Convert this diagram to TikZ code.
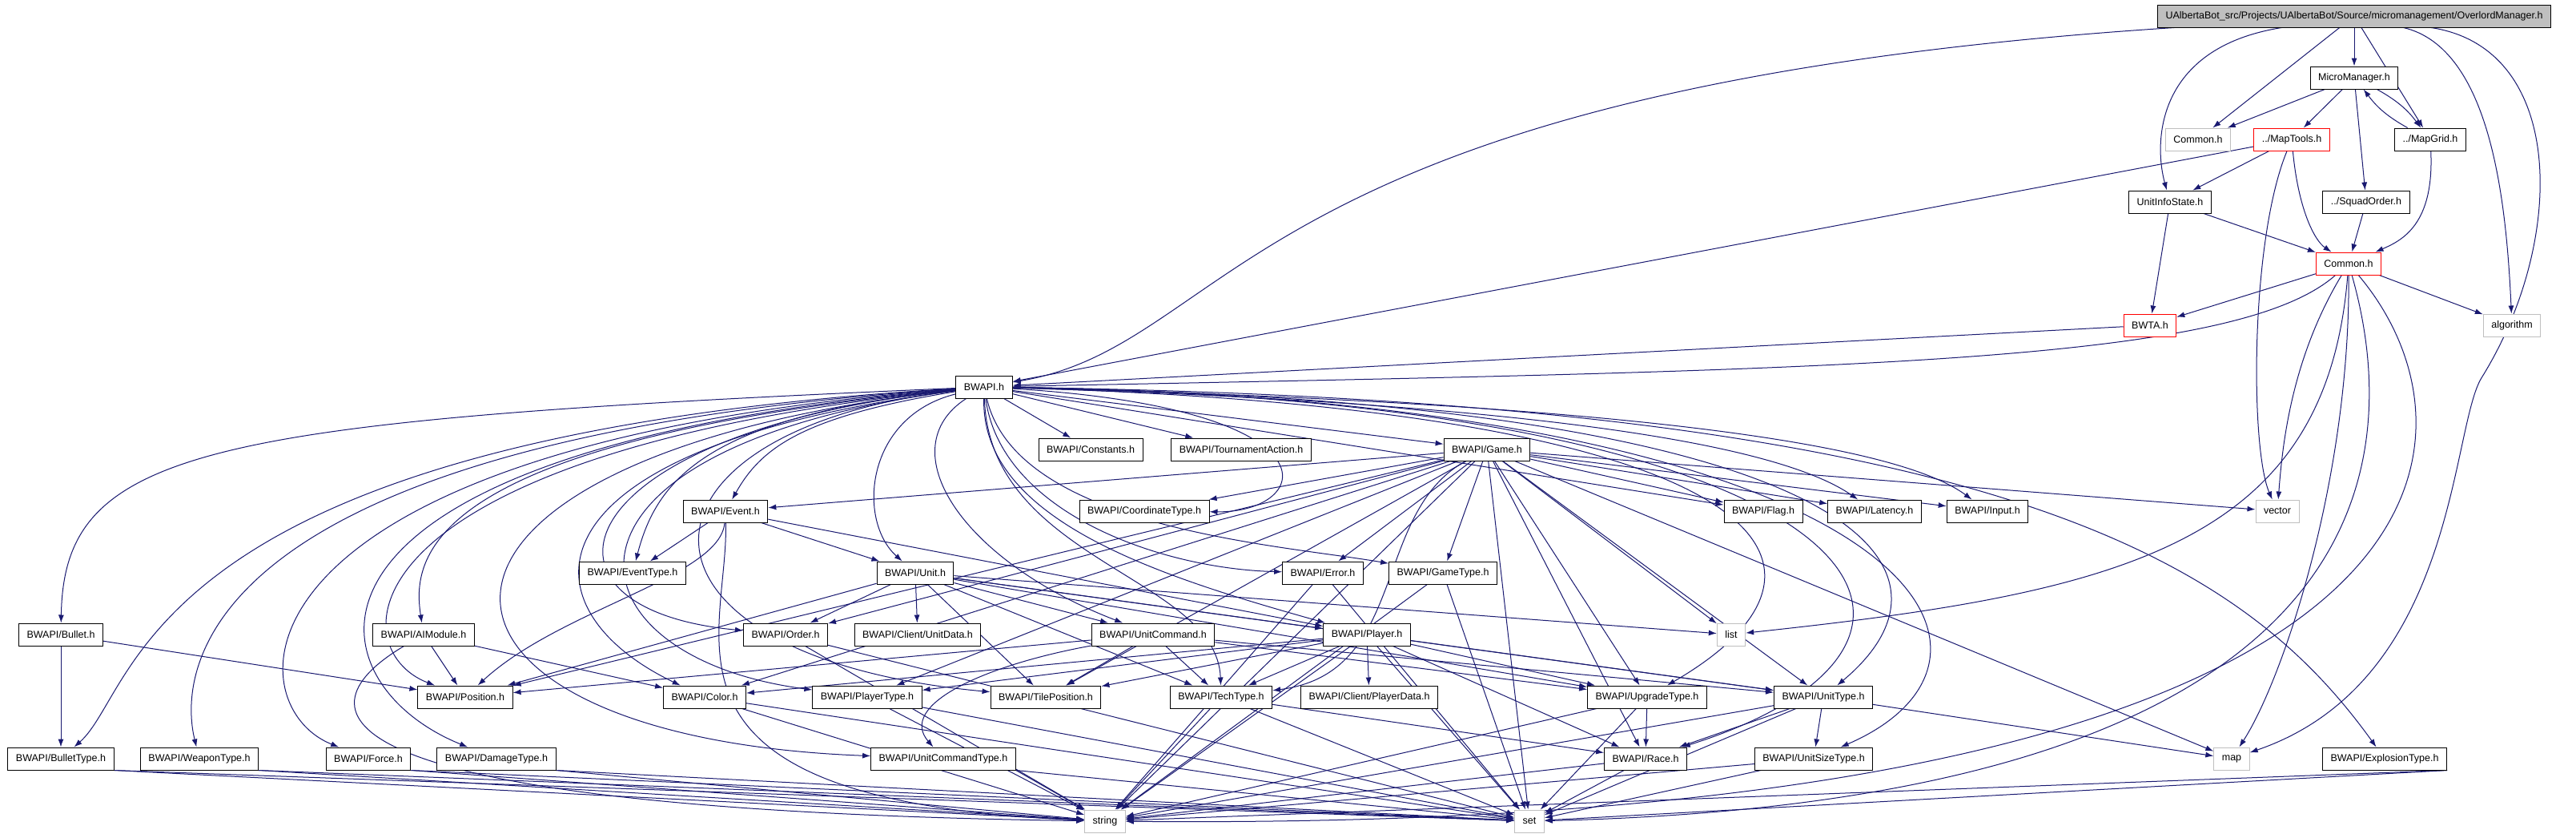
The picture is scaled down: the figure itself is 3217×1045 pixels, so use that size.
\documentclass[tikz,border=0pt]{standalone}
\usepackage{fontspec}
\setmainfont{Liberation Sans}
\usetikzlibrary{arrows.meta,backgrounds,positioning}
\definecolor{edgeblue}{HTML}{191970}
\definecolor{boxgray}{HTML}{BFBFBF}
\tikzset{%
	hdr/.style   = {draw, rectangle, fill=white, line width=1pt, minimum height=28pt, inner xsep=10pt, font=\fontsize{12.5}{15}\selectfont}, % header file
	sysh/.style  = {hdr, draw=boxgray}, % system header
	trunc/.style = {hdr, draw=red}, % truncated
	mainf/.style = {hdr, fill=boxgray}, % documented file
	inc/.style   = {draw=edgeblue, line width=1pt, -{Latex[length=10pt,width=7pt]}},
}
\begin{document}
\begin{tikzpicture}[x=1pt,y=-1pt]
	\useasboundingbox (0,0) rectangle (3217,1045);
	% top part
	\node [mainf] (root) at (2940,20) {UAlbertaBot\_src/Projects/UAlbertaBot/Source/micromanagement/OverlordManager.h};
	\node [hdr] (mm) at (2940,97) {MicroManager.h};
	\node [sysh] (cmg) at (2745,174) {Common.h};
	\node [trunc] (mt) at (2862,174) {../MapTools.h};
	\node [hdr] (mg) at (3035,174) {../MapGrid.h};
	\node [hdr] (uis) at (2710,252) {UnitInfoState.h};
	\node [hdr] (sqo) at (2955,252) {../SquadOrder.h};
	\node [trunc] (cmn) at (2933,329) {Common.h};
	\node [trunc] (bwta) at (2685,406) {BWTA.h};
	\node [sysh] (salg) at (3137,406) {algorithm};
	% BWAPI
	\node [hdr] (bw) at (1229,483) {BWAPI.h};
	\node [hdr] (cst) at (1362,561) {BWAPI/Constants.h};
	\node [hdr] (tac) at (1550,561) {BWAPI/TournamentAction.h};
	\node [hdr] (game) at (1857,561) {BWAPI/Game.h};
	\node [hdr] (evt) at (906,638) {BWAPI/Event.h};
	\node [hdr] (crd) at (1429,638) {BWAPI/CoordinateType.h};
	\node [hdr] (flag) at (2202,638) {BWAPI/Flag.h};
	\node [hdr] (lat) at (2341,638) {BWAPI/Latency.h};
	\node [hdr] (inp) at (2482,638) {BWAPI/Input.h};
	\node [sysh] (svec) at (2844,638) {vector};
	\node [hdr] (evty) at (790,715) {BWAPI/EventType.h};
	\node [hdr] (unit) at (1143,715) {BWAPI/Unit.h};
	\node [hdr] (err) at (1652,715) {BWAPI/Error.h};
	\node [hdr] (gty) at (1802,715) {BWAPI/GameType.h};
	\node [hdr] (blt) at (76,792) {BWAPI/Bullet.h};
	\node [hdr] (aim) at (529,792) {BWAPI/AIModule.h};
	\node [hdr] (ord) at (981,792) {BWAPI/Order.h};
	\node [hdr] (ud) at (1146,792) {BWAPI/Client/UnitData.h};
	\node [hdr] (ucmd) at (1440,792) {BWAPI/UnitCommand.h};
	\node [hdr] (ply) at (1707,792) {BWAPI/Player.h};
	\node [sysh] (slst) at (2162,792) {list};
	\node [hdr] (pos) at (581,870) {BWAPI/Position.h};
	\node [hdr] (col) at (880,870) {BWAPI/Color.h};
	\node [hdr] (pty) at (1083,870) {BWAPI/PlayerType.h};
	\node [hdr] (tpos) at (1306,870) {BWAPI/TilePosition.h};
	\node [hdr] (tech) at (1525,870) {BWAPI/TechType.h};
	\node [hdr] (pd) at (1710,870) {BWAPI/Client/PlayerData.h};
	\node [hdr] (upg) at (2057,870) {BWAPI/UpgradeType.h};
	\node [hdr] (uty) at (2277,870) {BWAPI/UnitType.h};
	\node [hdr] (bty) at (76,947) {BWAPI/BulletType.h};
	\node [hdr] (wty) at (249,947) {BWAPI/WeaponType.h};
	\node [hdr] (frc) at (460,947) {BWAPI/Force.h};
	\node [hdr] (dty) at (620,947) {BWAPI/DamageType.h};
	\node [hdr] (uct) at (1178,947) {BWAPI/UnitCommandType.h};
	\node [hdr] (race) at (2055,947) {BWAPI/Race.h};
	\node [hdr] (ust) at (2265,947) {BWAPI/UnitSizeType.h};
	\node [sysh] (smap) at (2787,947) {map};
	\node [hdr] (ety) at (2978,947) {BWAPI/ExplosionType.h};
	\node [sysh] (strg) at (1380,1025) {string};
	\node [sysh] (sset) at (1910,1025) {set};

	\begin{scope}[on background layer]
	% straight includes
	\foreach \s/\t in {root/cmg, root/mm, root/mg, mm/cmg, mm/mt, mm/sqo, mt/uis, mt/bw, uis/bwta, uis/cmn, sqo/cmn, cmn/bwta, cmn/salg, bwta/bw,
		bw/cst, bw/tac, bw/game, bw/flag,
		game/gty, game/err, game/evt, game/crd, game/pos, game/col, game/tpos, game/pty, game/strg, game/flag, game/lat, game/inp, game/svec, game/slst, game/smap, game/sset, game/race, game/uty, game/upg, game/ord,
		evt/evty, evt/unit, evt/ply,
		unit/ord, unit/ud, unit/tpos, unit/ucmd, unit/ply, unit/tech, unit/upg, unit/uty, unit/slst, unit/pos,
		ucmd/pos, ucmd/tpos, ucmd/tech, ucmd/upg, ucmd/uty,
		ply/pty, ply/col, ply/tpos, ply/tech, ply/pd, ply/race, ply/upg, ply/uty, ply/strg, ply/sset,
		blt/pos, blt/bty, aim/pos, aim/col,
		ord/strg, ord/sset, col/strg, col/sset, pty/strg, pty/sset, tech/race, tech/strg, tech/sset,
		upg/race, upg/strg, upg/sset, uty/race, uty/ust, uty/smap, uty/strg, uty/sset,
		race/strg, race/sset, ust/strg, ust/sset, err/strg, err/sset, gty/strg, gty/sset}
		\draw[inc] (\s) -- (\t);
	\foreach \s in {bty,wty,frc,dty,uct,ety} {
		\draw[inc] (\s.south east) -- (strg);
		\draw[inc] (\s.south east) -- (sset);
	}
	% curved includes
	\draw[inc] (root) .. controls (1545,110) and (1545,430) .. (bw);
	\draw[inc] (root) .. controls (2690,60) and (2690,180) .. (uis);
	\draw[inc] (root) .. controls (3110,60) and (3130,250) .. (salg);
	\draw[inc] (root) .. controls (3205,60) and (3205,300) .. (3100,470) .. controls (3060,530) and (3070,850) .. (smap);
	\draw[inc] (mm) to[bend left=12] (mg);
	\draw[inc] (mg) to[bend left=12] (mm);
	\draw[inc] (mg) .. controls (3040,280) and (3000,300) .. (cmn);
	\draw[inc] (mt) .. controls (2870,260) and (2890,300) .. (cmn);
	\draw[inc] (mt) .. controls (2810,300) and (2810,560) .. (svec);
	\draw[inc] (cmn) .. controls (2790,455) and (2300,462) .. (bw);
	\draw[inc] (cmn) .. controls (2860,450) and (2850,560) .. (svec);
	\draw[inc] (cmn) .. controls (2905,680) and (2650,740) .. (slst);
	\draw[inc] (cmn) .. controls (2935,600) and (2850,850) .. (smap);
	\draw[inc] (cmn) .. controls (3010,600) and (2950,1000) .. (sset);
	\draw[inc] (cmn) .. controls (3120,550) and (3100,1040) .. (strg);
	\draw[inc] (game) .. controls (1712,640) and (1760,840) .. (tech);
	\draw[inc] (bw) .. controls (250,525) and (80,560) .. (blt);
	\draw[inc] (bw) .. controls (170,545) and (175,860) .. (bty);
	\draw[inc] (bw) .. controls (220,550) and (225,850) .. (wty);
	\draw[inc] (bw) .. controls (272,555) and (290,880) .. (frc);
	\draw[inc] (bw) .. controls (322,560) and (380,850) .. (dty);
	\draw[inc] (bw) .. controls (424,565) and (424,810) .. (pos);
	\draw[inc] (bw) .. controls (440,570) and (470,920) .. (uct);
	\draw[inc] (bw) .. controls (520,550) and (515,700) .. (aim);
	\draw[inc] (bw) .. controls (880,520) and (820,600) .. (evty);
	\draw[inc] (bw) .. controls (1000,520) and (950,560) .. (evt);
	\draw[inc] (bw) .. controls (700,540) and (640,760) .. (ord);
	\draw[inc] (bw) .. controls (650,560) and (700,820) .. (pty);
	\draw[inc] (bw) .. controls (640,560) and (650,760) .. (col);
	\draw[inc] (bw) .. controls (760,540) and (760,820) .. (tpos);
	\draw[inc] (bw) .. controls (1080,520) and (1070,650) .. (unit);
	\draw[inc] (bw) .. controls (1110,560) and (1200,700) .. (ucmd);
	\draw[inc] (bw) .. controls (1225,650) and (1450,720) .. (ply);
	\draw[inc] (bw) .. controls (1235,700) and (1520,720) .. (tech);
	\draw[inc] (bw) .. controls (1250,640) and (1450,710) .. (err);
	\draw[inc] (bw) .. controls (1270,660) and (1600,680) .. (gty);
	\draw[inc] (bw) .. controls (1680,510) and (1640,640) .. (crd);
	\draw[inc] (bw) .. controls (1800,500) and (2200,540) .. (lat);
	\draw[inc] (bw) .. controls (1900,500) and (2350,540) .. (inp);
	\draw[inc] (bw) .. controls (2200,510) and (2350,700) .. (upg);
	\draw[inc] (bw) .. controls (2300,500) and (2480,700) .. (uty);
	\draw[inc] (bw) .. controls (2350,500) and (2520,800) .. (race);
	\draw[inc] (bw) .. controls (2400,500) and (2560,820) .. (ust);
	\draw[inc] (bw) .. controls (2500,500) and (2800,700) .. (ety);
	\draw[inc] (evt) .. controls (900,720) and (700,760) .. (pos);
	\draw[inc] (evt) .. controls (910,800) and (790,1000) .. (strg);
	\draw[inc] (aim) .. controls (380,880) and (350,1010) .. (strg);
	\draw[inc] (ucmd) .. controls (1230,830) and (1120,880) .. (uct);
	\end{scope}
\end{tikzpicture}
\end{document}
